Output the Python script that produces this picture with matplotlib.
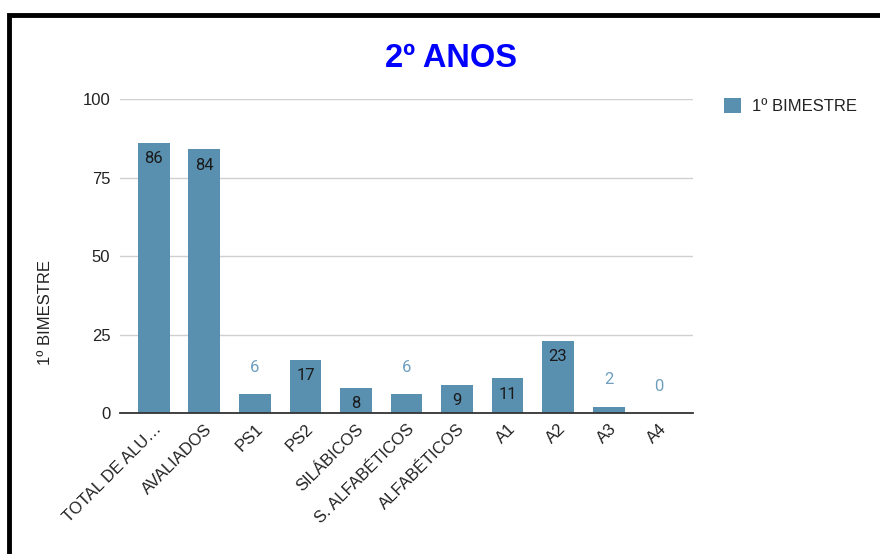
import matplotlib
matplotlib.use("Agg")
import matplotlib.pyplot as plt
from matplotlib.patches import Rectangle

categories = ["TOTAL DE ALU…", "AVALIADOS", "PS1", "PS2", "SILÁBICOS",
              "S. ALFABÉTICOS", "ALFABÉTICOS", "A1", "A2", "A3", "A4"]
values = [86, 84, 6, 17, 8, 6, 9, 11, 23, 2, 0]
series_name = "1º BIMESTRE"
y_ticks = [0, 25, 50, 75, 100]

bar_color = "#5990b0"
out_label_color = "#6fa0bf"

plt.rcParams['font.family'] = ['Liberation Sans', 'DejaVu Sans']

fig = plt.figure(figsize=(8.8, 5.54), dpi=100)
ax = fig.add_axes([0.1364, 0.2545, 0.6511, 0.5668])

x = list(range(len(categories)))
bars = ax.bar(x, values, width=0.63, color=bar_color, zorder=2, label=series_name)

ax.set_xlim(-0.67, len(categories) - 1 + 0.67)
ax.set_ylim(0, 100)
ax.set_yticks(y_ticks)
ax.set_yticklabels([str(t) for t in y_ticks], fontsize=12, color="#222222")
ax.tick_params(axis='y', length=0, pad=7)
ax.tick_params(axis='x', length=0, pad=6)
ax.yaxis.grid(True, color="#d0d0d0", linewidth=1, zorder=0)
for s in ["top", "right", "left"]:
    ax.spines[s].set_visible(False)
ax.spines["bottom"].set_color("#333333")
ax.spines["bottom"].set_linewidth(1.3)
ax.spines["bottom"].set_zorder(3)

ax.set_xticks(x)
ax.set_xticklabels(categories, rotation=45, ha='right', va='top',
                   rotation_mode='anchor', fontsize=12, color="#222222")

# value labels: inside the bar when it is tall enough, above it otherwise
for xi, v in zip(x, values):
    if v >= 8:
        ax.annotate(str(v), (xi, v), xytext=(0, -6), textcoords='offset points',
                    ha='center', va='top', fontsize=12, color="#1a1a1a",
                    family=['Roboto', 'DejaVu Sans'], zorder=4)
    else:
        ax.annotate(str(v), (xi, v), xytext=(0, 14), textcoords='offset points',
                    ha='center', va='bottom', fontsize=12, color=out_label_color,
                    family=['Roboto', 'DejaVu Sans'], zorder=4)

ax.set_ylabel(series_name, fontsize=12, color="#222222")
ax.yaxis.set_label_coords(-0.117, 0.32)

fig.text(0.512, 0.895, "2º ANOS", ha='center', va='center', fontsize=23.5,
         fontweight='bold', color="#0000ff")

leg = ax.legend(loc='upper left', bbox_to_anchor=(1.028, 1.05), frameon=False,
                fontsize=12, handlelength=1.0, handleheight=1.0, handletextpad=0.7)
for t in leg.get_texts():
    t.set_color("#222222")

# black frame around the chart
fig.patches.append(Rectangle((9 / 880, -0.05), 1.2, 1 - 15 / 554 + 0.05,
                             transform=fig.transFigure, fill=False,
                             edgecolor="black", linewidth=3.5))

fig.savefig("out.png", dpi=100, facecolor="white")
